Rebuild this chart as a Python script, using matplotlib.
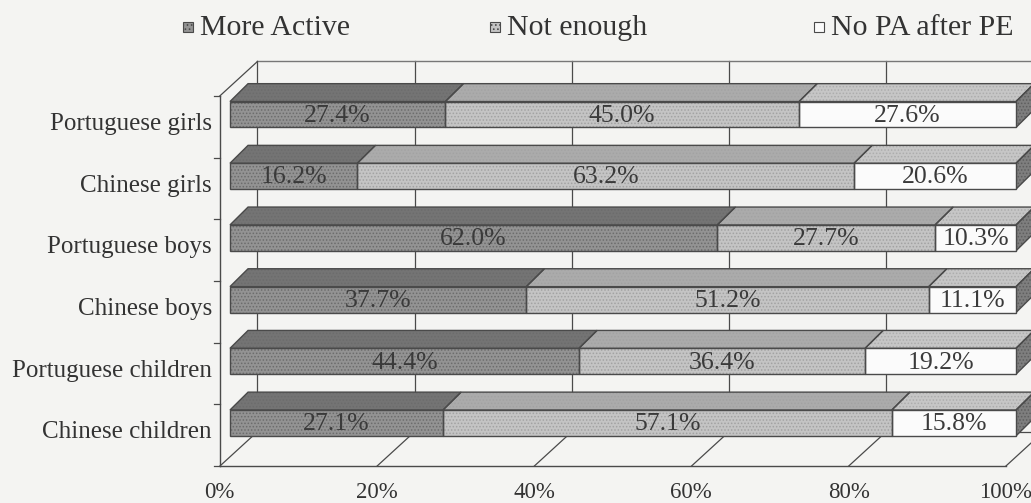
import numpy as np
import matplotlib.pyplot as plt
from matplotlib.patches import Polygon, Rectangle

categories = ['Portuguese girls', 'Chinese girls', 'Portuguese boys',
              'Chinese boys', 'Portuguese children', 'Chinese children']
more_active = [27.4, 16.2, 62.0, 37.7, 44.4, 27.1]
not_enough = [45.0, 63.2, 27.7, 51.2, 36.4, 57.1]
no_pa = [27.6, 20.6, 10.3, 11.1, 19.2, 15.8]
series_names = ['More Active', 'Not enough', 'No PA after PE']
ticks = [0, 20, 40, 60, 80, 100]
tick_labels = ['0%', '20%', '40%', '60%', '80%', '100%']

plt.rcParams['font.family'] = ['Liberation Serif', 'DejaVu Serif']
plt.rcParams['hatch.linewidth'] = 0.7

bg = '#f4f4f2'
front_cols = ['#939393', '#c4c4c4', '#fbfbfb']
top_cols = ['#747474', '#ababab', '#c6c6c6']
hatch_cols = ['#6c6c6c', '#a2a2a2', '#acacac']
side_col = '#7e7e7e'
line_col = '#4a4a4a'
text_col = '#333333'

fig = plt.figure(figsize=(10.31, 5.03), dpi=100, facecolor=bg)
ax = fig.add_axes([0, 0, 1, 1])
ax.set_facecolor(bg)
ax.set_xlim(-29.26, 101.91)
ax.set_ylim(6.297, -1.856)
ax.axis('off')

# fake 3d offsets in data units
bdx, bdy = 2.3, -0.29   # bar depth
wdx, wdy = 4.8, -0.56   # wall depth
fx0 = -1.3              # floor front edge, 0%
fy, ty = 5.7, -0.3      # floor / top of left wall
half = 0.21             # half bar height


def face(pts, fc, hc, z, hatch='.....'):
    ax.add_patch(Polygon(pts, closed=True, facecolor=fc, edgecolor=hc,
                         hatch=hatch, lw=0, zorder=z))
    ax.add_patch(Polygon(pts, closed=True, fill=False, edgecolor=line_col,
                         lw=1.0, zorder=z + 0.1))


# walls and floor
for t in ticks:
    ax.plot([fx0 + t + wdx] * 2, [ty + wdy, fy + wdy], color=line_col, lw=0.9, zorder=1)
    ax.plot([fx0 + t, fx0 + t + wdx], [fy, fy + wdy], color=line_col, lw=0.9, zorder=1)
ax.plot([fx0 + wdx, fx0 + 100 + wdx], [ty + wdy] * 2, color='#777777', lw=1.0, zorder=1)
ax.plot([fx0 + wdx, fx0 + 100 + wdx], [fy + wdy] * 2, color=line_col, lw=0.9, zorder=1)
ax.plot([fx0, fx0], [ty, fy], color=line_col, lw=1.0, zorder=1)
ax.plot([fx0, fx0 + wdx], [ty, ty + wdy], color=line_col, lw=0.9, zorder=1)
ax.plot([fx0, fx0 + 100], [fy, fy], color=line_col, lw=1.0, zorder=1)
for k in range(len(categories) + 1):
    ax.plot([fx0 - 0.7, fx0], [ty + k] * 2, color=line_col, lw=0.9, zorder=1)

# bars
data = np.array([more_active, not_enough, no_pa]).T
for i, row in enumerate(data):
    left = 0
    top, bot = i - half, i + half
    for j, v in enumerate(row):
        x0, x1 = left, left + v
        face([(x0, top), (x1, top), (x1 + bdx, top + bdy), (x0 + bdx, top + bdy)],
             top_cols[j], hatch_cols[j], 2)
        face([(x0, top), (x1, top), (x1, bot), (x0, bot)],
             front_cols[j], hatch_cols[j], 3,
             hatch='.....' if j < 2 else None)
        ax.text((x0 + x1) / 2, i + 0.02, f'{v:.1f}%', ha='center', va='center',
                fontsize=18.5, color='#3a3a3a', zorder=6)
        left = x1
    face([(left, top), (left + bdx, top + bdy), (left + bdx, bot + bdy), (left, bot)],
         side_col, '#5e5e5e', 2)
    ax.text(-2.3, i + 0.25, categories[i], ha='right', va='baseline',
            fontsize=18, color=text_col)

for t, lab in zip(ticks, tick_labels):
    ax.text(fx0 + t, 6.215, lab, ha='center', va='baseline', fontsize=16.5,
            color=text_col)

# legend
leg_x = [183, 490, 814]
for j, name in enumerate(series_names):
    fig.add_artist(Rectangle((leg_x[j] / 1031, 1 - 32 / 503), 10 / 1031, 10 / 503,
                             transform=fig.transFigure, facecolor=front_cols[j],
                             edgecolor=line_col, lw=0.8,
                             hatch='....' if j < 2 else None))
    fig.text((leg_x[j] + 17) / 1031, 1 - 35 / 503, name, ha='left', va='baseline',
             fontsize=21.5, color=text_col)

fig.savefig('out.png', dpi=100, facecolor=bg)
